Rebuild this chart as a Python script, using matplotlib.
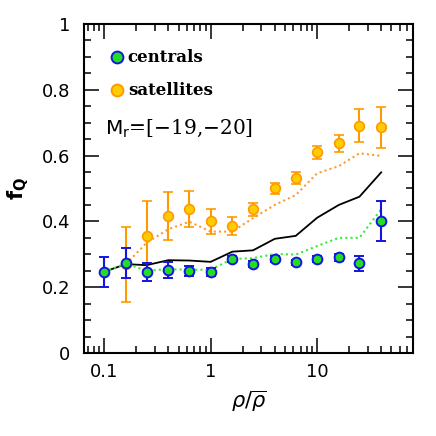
import numpy as np
import matplotlib
matplotlib.use('Agg')
import matplotlib.pyplot as plt
from matplotlib.ticker import MultipleLocator, LogLocator, FixedLocator, NullFormatter


#data
rho = [0.1, 0.16, 0.25, 0.4, 0.63, 1.0, 1.6, 2.5, 4.0, 6.3, 10.0, 16.0, 25.0, 40.0]

fq_cen = [0.247, 0.273, 0.247, 0.252, 0.249, 0.246, 0.286, 0.270, 0.285, 0.276, 0.287, 0.291, 0.273, 0.401]
err_cen = [0.045, 0.045, 0.028, 0.024, 0.015, 0.012, 0.010, 0.009, 0.009, 0.008, 0.009, 0.010, 0.023, 0.061]

rho_sat = rho[1:]
fq_sat = [0.270, 0.357, 0.417, 0.438, 0.400, 0.387, 0.437, 0.500, 0.531, 0.610, 0.637, 0.691, 0.686]
err_sat = [0.114, 0.105, 0.073, 0.055, 0.037, 0.027, 0.020, 0.018, 0.018, 0.020, 0.025, 0.051, 0.063]

#model curves
fq_all_mod = [0.247, 0.270, 0.267, 0.282, 0.281, 0.277, 0.308, 0.312, 0.347, 0.356, 0.411, 0.450, 0.475, 0.549]
fq_cen_mod = [0.247, 0.272, 0.250, 0.255, 0.253, 0.253, 0.286, 0.288, 0.301, 0.299, 0.325, 0.350, 0.350, 0.437]
fq_sat_mod = [0.270, 0.335, 0.376, 0.399, 0.369, 0.369, 0.410, 0.450, 0.480, 0.546, 0.568, 0.607, 0.599]

y_ticks = [0, 0.2, 0.4, 0.6, 0.8, 1.0]
y_labels = ['0', '0.2', '0.4', '0.6', '0.8', '1']
x_ticks = [0.1, 1, 10]
x_labels = ['0.1', '1', '10']


fig = plt.figure(figsize=(4.36, 4.36), dpi=100)
ax = fig.add_axes([0.1927, 0.1904, 0.7543, 0.7546])

ax.plot(rho, fq_all_mod, color='black', lw=1.3, zorder=2)
ax.plot(rho, fq_cen_mod, color='#33ee33', lw=1.5, ls=(0, (1, 1.5)), zorder=2)
ax.plot(rho_sat, fq_sat_mod, color='#ff9933', lw=1.5, ls=(0, (1, 1.5)), zorder=2)

ax.errorbar(rho_sat, fq_sat, yerr=err_sat, fmt='o', ms=7, mfc='#ffcc00', mec='#ff9900', mew=1.2,
			ecolor='#ff9900', elinewidth=1.5, capsize=3.3, capthick=1.5, zorder=3)
ax.errorbar(rho, fq_cen, yerr=err_cen, fmt='o', ms=7, mfc='#22dd22', mec='#1515e0', mew=1.4,
			ecolor='#1515e0', elinewidth=1.5, capsize=3.3, capthick=1.5, zorder=4)

ax.set_xscale('log')
ax.set_xlim(10**-1.19, 10**1.9)
ax.set_ylim(0, 1)

ax.xaxis.set_major_locator(FixedLocator(x_ticks))
ax.set_xticklabels(x_labels)
ax.xaxis.set_minor_locator(LogLocator(base=10, subs=np.arange(2, 10)))
ax.xaxis.set_minor_formatter(NullFormatter())
ax.yaxis.set_major_locator(FixedLocator(y_ticks))
ax.set_yticklabels(y_labels)
ax.yaxis.set_minor_locator(MultipleLocator(0.05))

ax.tick_params(which='both', direction='in', top=True, right=True, width=1.1, labelsize=13)
ax.tick_params(which='major', length=10.5)
ax.tick_params(which='minor', length=5.2)
ax.tick_params(axis='x', pad=7)
ax.tick_params(axis='y', pad=10)
for s in ax.spines.values():
	s.set_linewidth(1.5)

ax.set_xlabel(r'$\rho/\overline{\rho}$', fontsize=15, labelpad=6)
ax.set_ylabel(r'$\mathbf{f_Q}$', fontsize=15, labelpad=8)

#legend drawn by hand
ax.plot([0.0994], [0.899], 'o', ms=8.5, mfc='#22dd22', mec='#1515e0', mew=1.4, transform=ax.transAxes)
ax.plot([0.0994], [0.799], 'o', ms=8.5, mfc='#ffcc00', mec='#ff9900', mew=1.4, transform=ax.transAxes)
ax.text(0.133, 0.899, 'centrals', transform=ax.transAxes, va='center', ha='left',
		fontsize=12, fontweight='bold', family='DejaVu Serif')
ax.text(0.133, 0.799, 'satellites', transform=ax.transAxes, va='center', ha='left',
		fontsize=12, fontweight='bold', family='DejaVu Serif')
ax.text(0.064, 0.684, r'$\mathrm{M_r}$=[$-$19,$-$20]', transform=ax.transAxes, va='center', ha='left',
		fontsize=14.5, family='DejaVu Serif')

plt.savefig('out.png', dpi=100)
